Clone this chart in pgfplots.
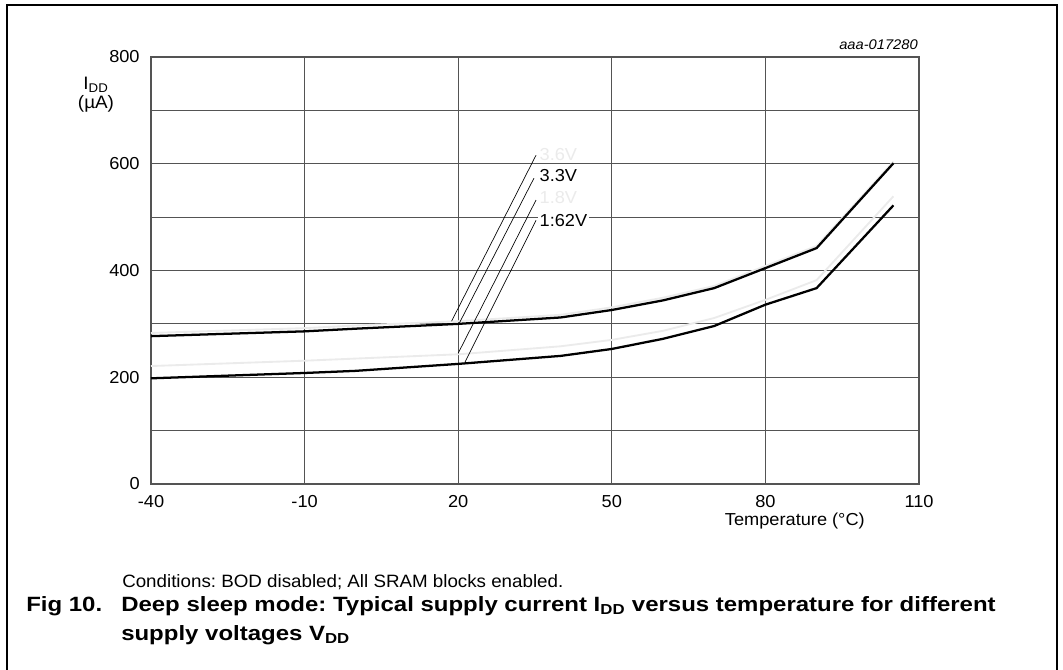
\documentclass[border=0pt]{standalone}
\usepackage{fontspec}
\setmainfont[FakeStretch=1.05]{Liberation Sans}
\newfontfamily\capfont[FakeStretch=1.16]{Liberation Sans}
\usepackage{pgfplots}
\pgfplotsset{compat=1.18}
\definecolor{gridc}{gray}{0.33}
\definecolor{lgray}{gray}{0.92}
\begin{document}
\frenchspacing
\begin{tikzpicture}
\useasboundingbox (-113.25pt,-139.5pt) rectangle (684pt,363pt);
\draw[line width=1.3pt] (-108pt,-141pt) -- (-108pt,359.25pt) -- (679.5pt,359.25pt) -- (679.5pt,-141pt);
\begin{axis}[at={(0pt,0pt)}, anchor=south west, scale only axis,
  width=576pt, height=320.25pt,
  xmin=-40, xmax=110, ymin=0, ymax=800,
  xtick={-40,-10,20,50,80,110}, xticklabels={-40,-10,20,50,80,110},
  ytick={0,100,...,800}, yticklabels={0,,200,,400,,600,,800},
  grid=major, major grid style={gridc, line width=0.9pt},
  axis line style={gridc, line width=0.9pt},
  major tick length=0pt,
  tick label style={font=\fontsize{13}{15}\selectfont},
  xticklabel style={yshift=-5pt},
  yticklabel style={xshift=-5pt},
  clip=false,
]
% 3.6V (light)
\addplot[lgray, line width=1.4pt] coordinates {
(-40,283) (-10,292) (0,297) (20,305) (40,317) (50,331) (60,349) (70,371) (90,446) (105,604)};
% 1.8V (light)
\addplot[lgray, line width=1.4pt] coordinates {
(-40,221) (-10,231) (20,243) (40,258) (50,270) (60,287) (70,311) (80,345) (90,382) (105,539)};
% 3.3V
\addplot[black, line width=1.7pt] coordinates {
(-40,277) (-10,286) (0,291) (20,300) (40,312) (50,326) (60,344) (70,367) (90,442) (105,601)};
% 1.62V
\addplot[black, line width=1.7pt] coordinates {
(-40,198) (-10,208) (0,212) (20,225) (40,240) (50,253) (60,272) (70,296) (80,336) (90,367) (105,522)};
% leader lines
\draw[black, line width=0.5pt] (axis cs:18.7,305) -- (axis cs:35.2,616);
\draw[black, line width=0.5pt] (axis cs:20.2,301) -- (axis cs:34.8,573);
\draw[black, line width=0.5pt] (axis cs:20.0,245) -- (axis cs:35.2,532);
\draw[black, line width=0.5pt] (axis cs:21.3,228) -- (axis cs:35.2,494);
\node[anchor=west, fill=white, inner sep=1pt, text=lgray, font=\fontsize{13}{15}\selectfont] at (axis cs:35.6,618) {3.6V};
\node[anchor=west, fill=white, inner sep=1pt, font=\fontsize{13}{15}\selectfont] at (axis cs:35.6,577) {3.3V};
\node[anchor=west, fill=white, inner sep=1pt, text=lgray, font=\fontsize{13}{15}\selectfont] at (axis cs:35.6,536) {1.8V};
\node[anchor=west, fill=white, inner sep=1pt, font=\fontsize{13}{15}\selectfont] at (axis cs:35.6,494) {1:62V};
\end{axis}
\node[anchor=east, inner sep=0pt, font=\itshape\fontsize{10.5}{12}\selectfont] at (575.25pt,329.25pt) {aaa-017280};
\node[font=\fontsize{13.5}{15}\selectfont] at (-41.25pt,299.25pt) {I\textsubscript{DD}};
\node[font=\fontsize{13.5}{15}\selectfont] at (-41.25pt,285pt) {(µA)};
\node[anchor=east, inner sep=0pt, font=\fontsize{13}{15}\selectfont] at (535.5pt,-27.75pt) {Temperature (°C)};
\node[anchor=west, inner sep=0pt, font=\fontsize{13.4}{15}\selectfont] at (-21.75pt,-73.5pt) {Conditions: BOD disabled; All SRAM blocks enabled.};
\node[anchor=west, inner sep=0pt, font=\capfont\bfseries\fontsize{15.5}{17}\selectfont] at (-93.75pt,-91.5pt) {Fig 10.};
\node[anchor=west, inner sep=0pt, font=\capfont\bfseries\fontsize{15.5}{17}\selectfont] at (-22.5pt,-91.5pt) {Deep sleep mode: Typical supply current I\textsubscript{DD} versus temperature for different};
\node[anchor=west, inner sep=0pt, font=\capfont\bfseries\fontsize{15.5}{17}\selectfont] at (-22.5pt,-113.5pt) {supply voltages V\textsubscript{DD}};
\end{tikzpicture}
\end{document}
